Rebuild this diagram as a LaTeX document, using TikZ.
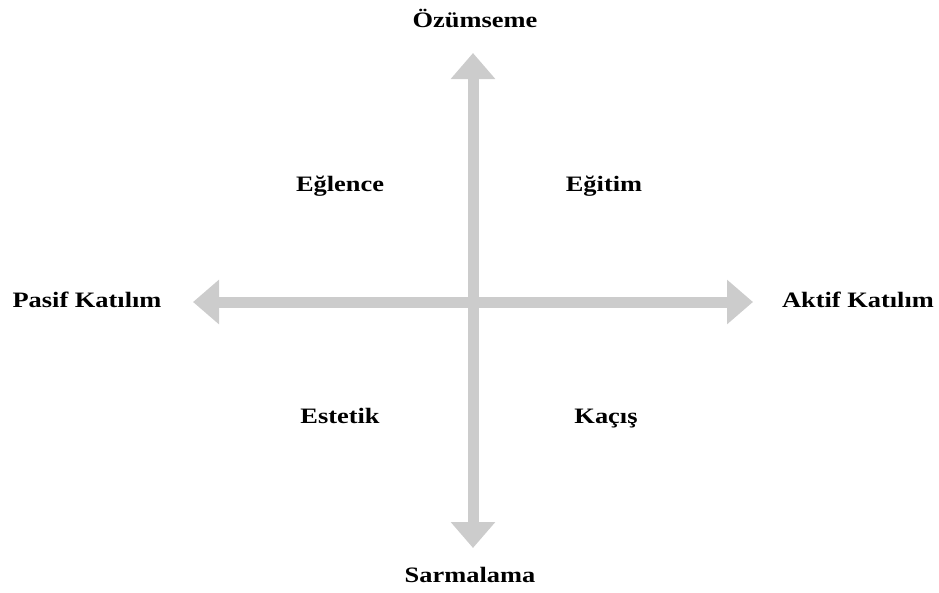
\documentclass[tikz,border=0pt]{standalone}
\usepackage{fontspec}
\setmainfont{Liberation Serif}[FakeStretch=1.2]
\usepackage{tikz}
\usetikzlibrary{arrows.meta}
\definecolor{axisgray}{RGB}{204,204,204}
\tikzset{axisarrow/.style={draw=axisgray, line width=11pt, {Triangle[length=26pt,width=43pt]}-{Triangle[length=26pt,width=43pt]}}}
\tikzset{lbl/.style={font=\fontsize{22}{24}\selectfont\bfseries, inner sep=0pt, anchor=base}}

\begin{document}
\begin{tikzpicture}[x=1pt,y=-1pt]
\useasboundingbox (0,0) rectangle (939,592);
% axis ends
\coordinate (top) at (473,53); \coordinate (bottom) at (473,548);
\coordinate (left) at (193,302); \coordinate (right) at (753,302);
\draw[axisarrow] (left) -- (right);
\draw[axisarrow] (bottom) -- (top);
% axis labels
\node[lbl] (ozum) at (475,27) {Özümseme};
\node[lbl] (sarm) at (470,582) {Sarmalama};
\node[lbl] (pasif) at (87,307) {Pasif Katılım};
\node[lbl] (aktif) at (858,307) {Aktif Katılım};
% quadrants
\node[lbl] (eglence) at (340,191) {Eğlence};
\node[lbl] (egitim) at (604,191) {Eğitim};
\node[lbl] (estetik) at (340,423) {Estetik};
\node[lbl] (kacis) at (606,423) {Kaçış};
\end{tikzpicture}
\end{document}
